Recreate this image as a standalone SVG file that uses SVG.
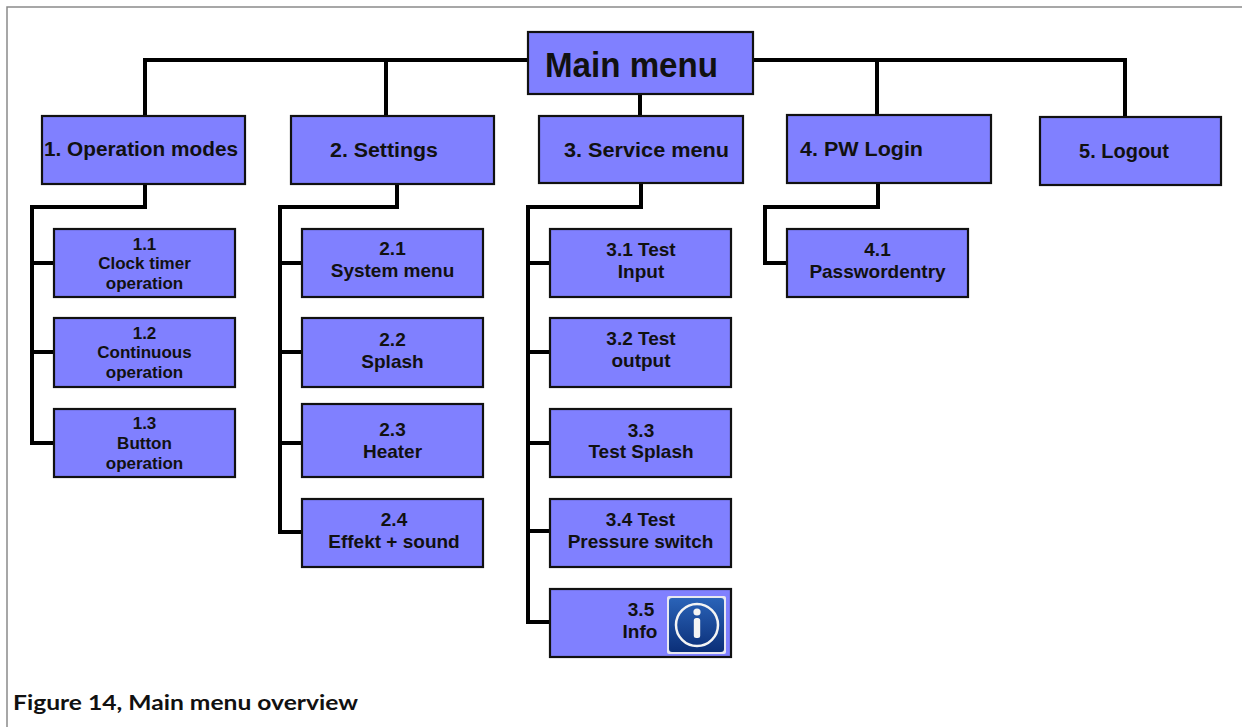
<svg xmlns="http://www.w3.org/2000/svg" width="1242" height="727" viewBox="0 0 1242 727">
<defs>
<style>
.box{fill:#8080ff;stroke:#111;stroke-width:2.2}
.conn{fill:none;stroke:#000;stroke-width:4;stroke-linejoin:miter;stroke-linecap:square}
.t{font-family:'Liberation Sans',sans-serif;font-weight:bold;fill:#111;text-anchor:middle}
.top{font-size:19.5px}
.s19{font-size:19px}
.s17{font-size:17px}
.frame{fill:none;stroke:#8a8a8a;stroke-width:1.5}
</style>
<linearGradient id="ig" x1="0" y1="0" x2="0" y2="1">
<stop offset="0" stop-color="#2a63b8"/>
<stop offset="1" stop-color="#0b2f78"/>
</linearGradient>
</defs>
<rect width="1242" height="727" fill="#fff"/>
<path class="frame" d="M7,727 V7 H1242"/>

<g id="connectors">
<path class="conn" d="M145,116 V60 H1125 V117"/>
<path class="conn" d="M386,60 V116"/>
<path class="conn" d="M640,94 V116"/>
<path class="conn" d="M877,60 V115"/>
<path class="conn" d="M145,184 V207 H32 V443 H54 M32,263 H54 M32,352 H54"/>
<path class="conn" d="M397,184 V207 H280 V532 H302 M280,263 H302 M280,352 H302 M280,443 H302"/>
<path class="conn" d="M641,183 V207 H528 V622 H550 M528,263 H550 M528,352 H550 M528,443 H550 M528,531 H550"/>
<path class="conn" d="M878,183 V207 H765 V263 H787"/>
</g>

<g id="main">
<rect class="box" x="528" y="32" width="225" height="62"/>
<text class="t" x="545" y="77" font-family="Liberation Sans" style="font-size:35px;text-anchor:start" textLength="173" lengthAdjust="spacingAndGlyphs">Main menu</text>
</g>

<g id="n1">
<rect class="box" x="42" y="116" width="203" height="68"/>
<text class="t top" x="141" y="156" textLength="194" lengthAdjust="spacingAndGlyphs">1. Operation modes</text>
</g>
<g id="n2">
<rect class="box" x="291" y="116" width="203" height="68"/>
<text class="t top" x="384" y="157" textLength="108" lengthAdjust="spacingAndGlyphs">2. Settings</text>
</g>
<g id="n3">
<rect class="box" x="539" y="116" width="204" height="67"/>
<text class="t top" x="646.5" y="157" textLength="165" lengthAdjust="spacingAndGlyphs">3. Service menu</text>
</g>
<g id="n4">
<rect class="box" x="787" y="115" width="204" height="68"/>
<text class="t top" x="861.5" y="156" textLength="123" lengthAdjust="spacingAndGlyphs">4. PW Login</text>
</g>
<g id="n5">
<rect class="box" x="1040" y="117" width="181" height="68"/>
<text class="t top" x="1124" y="158" textLength="90" lengthAdjust="spacingAndGlyphs">5. Logout</text>
</g>

<g id="n1_1">
<rect class="box" x="54" y="229" width="181" height="68"/>
<text class="t s17" x="144.5" y="250">1.1</text>
<text class="t s17" x="144.5" y="269">Clock timer</text>
<text class="t s17" x="144.5" y="289">operation</text>
</g>
<g id="n1_2">
<rect class="box" x="54" y="318" width="181" height="69"/>
<text class="t s17" x="144.5" y="339">1.2</text>
<text class="t s17" x="144.5" y="358">Continuous</text>
<text class="t s17" x="144.5" y="378">operation</text>
</g>
<g id="n1_3">
<rect class="box" x="54" y="409" width="181" height="68"/>
<text class="t s17" x="144.5" y="429">1.3</text>
<text class="t s17" x="144.5" y="449">Button</text>
<text class="t s17" x="144.5" y="469">operation</text>
</g>

<g id="n2_1">
<rect class="box" x="302" y="229" width="181" height="68"/>
<text class="t s19" x="392.5" y="255">2.1</text>
<text class="t s19" x="392.5" y="277">System menu</text>
</g>
<g id="n2_2">
<rect class="box" x="302" y="318" width="181" height="69"/>
<text class="t s19" x="392.5" y="346">2.2</text>
<text class="t s19" x="392.5" y="368">Splash</text>
</g>
<g id="n2_3">
<rect class="box" x="302" y="404" width="181" height="73"/>
<text class="t s19" x="392.5" y="436">2.3</text>
<text class="t s19" x="392.5" y="458">Heater</text>
</g>
<g id="n2_4">
<rect class="box" x="302" y="499" width="181" height="68"/>
<text class="t s19" x="394" y="526">2.4</text>
<text class="t s19" x="394" y="548">Effekt + sound</text>
</g>

<g id="n3_1">
<rect class="box" x="550" y="229" width="181" height="68"/>
<text class="t s19" x="641" y="256">3.1 Test</text>
<text class="t s19" x="641" y="278">Input</text>
</g>
<g id="n3_2">
<rect class="box" x="550" y="318" width="181" height="69"/>
<text class="t s19" x="641" y="345">3.2 Test</text>
<text class="t s19" x="641" y="367">output</text>
</g>
<g id="n3_3">
<rect class="box" x="550" y="409" width="181" height="68"/>
<text class="t s19" x="641" y="437">3.3</text>
<text class="t s19" x="641" y="458">Test Splash</text>
</g>
<g id="n3_4">
<rect class="box" x="550" y="499" width="181" height="68"/>
<text class="t s19" x="640.5" y="526">3.4 Test</text>
<text class="t s19" x="640.5" y="548">Pressure switch</text>
</g>
<g id="n3_5">
<rect class="box" x="550" y="589" width="181" height="68"/>
<text class="t s19" x="641" y="616">3.5</text>
<text class="t s19" x="640" y="638">Info</text>
<rect x="667" y="596" width="59" height="58" rx="2" fill="#e8e8f0"/>
<rect x="669" y="598" width="55" height="54" rx="3" fill="url(#ig)"/>
<circle cx="697" cy="625" r="21" fill="none" stroke="#f4f4f4" stroke-width="2.5"/>
<circle cx="697" cy="612" r="3.6" fill="#f4f4f4"/>
<rect x="693.8" y="618" width="6.4" height="20" rx="2.5" fill="#f4f4f4"/>
</g>

<g id="n4_1">
<rect class="box" x="787" y="229" width="181" height="68"/>
<text class="t s19" x="877.5" y="256">4.1</text>
<text class="t s19" x="877.5" y="278">Passwordentry</text>
</g>

<text x="13" y="710" style="font-family:Lato,sans-serif;font-weight:bold;font-size:21px;fill:#111" textLength="345" lengthAdjust="spacingAndGlyphs">Figure 14, Main menu overview</text>
</svg>
